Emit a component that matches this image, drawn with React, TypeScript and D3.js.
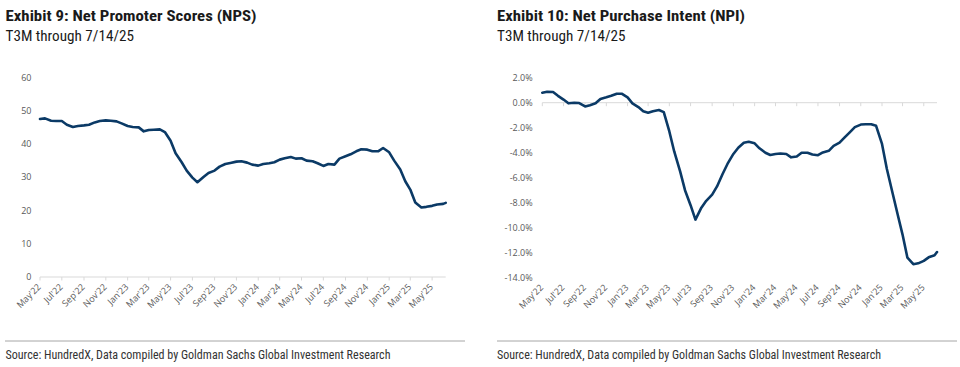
import React from 'react';
import * as d3 from 'd3';

// semi-monthly readings, shared by both exhibits
const dates = [
  '2022-05-01', '2022-05-15', '2022-06-01', '2022-06-15', '2022-07-01', '2022-07-15', '2022-08-01', '2022-08-15',
  '2022-09-01', '2022-09-15', '2022-10-01', '2022-10-15', '2022-11-01', '2022-11-15', '2022-12-01', '2022-12-15',
  '2023-01-01', '2023-01-15', '2023-02-01', '2023-02-15', '2023-03-01', '2023-03-15', '2023-04-01', '2023-04-15',
  '2023-05-01', '2023-05-15', '2023-06-01', '2023-06-15', '2023-07-01', '2023-07-15', '2023-08-01', '2023-08-15',
  '2023-09-01', '2023-09-15', '2023-10-01', '2023-10-15', '2023-11-01', '2023-11-15', '2023-12-01', '2023-12-15',
  '2024-01-01', '2024-01-15', '2024-02-01', '2024-02-15', '2024-03-01', '2024-03-15', '2024-04-01', '2024-04-15',
  '2024-05-01', '2024-05-15', '2024-06-01', '2024-06-15', '2024-07-01', '2024-07-15', '2024-08-01', '2024-08-15',
  '2024-09-01', '2024-09-15', '2024-10-01', '2024-10-15', '2024-11-01', '2024-11-15', '2024-12-01', '2024-12-15',
  '2025-01-01', '2025-01-15', '2025-02-01', '2025-02-15', '2025-03-01', '2025-03-15', '2025-04-01', '2025-04-15',
  '2025-05-01', '2025-05-15', '2025-06-01', '2025-06-08',
];

const npsValues = [
  47.5, 47.7, 47.0, 46.9, 46.9, 45.8, 45.1, 45.4, 45.6, 45.8, 46.5, 46.9, 47.1, 47.0, 46.8, 46.2,
  45.4, 45.1, 45.0, 43.8, 44.2, 44.3, 44.4, 43.6, 41.0, 37.2, 34.5, 32.0, 29.9, 28.5, 30.1, 31.3,
  32.0, 33.2, 34.0, 34.3, 34.7, 34.8, 34.4, 33.8,
  33.5, 34.0, 34.2, 34.5, 35.3, 35.7, 36.1, 35.6, 35.7, 35.0, 34.8, 34.2, 33.4, 34.0, 33.8, 35.6,
  36.3, 36.9, 37.8, 38.4, 38.3, 37.8, 37.8, 38.8,
  37.5, 35.0, 32.3, 28.8, 26.3, 22.4, 20.9, 21.1, 21.4, 21.8, 22.0, 22.3,
];

// percent
const npiValues = [
  0.8, 0.88, 0.85, 0.55, 0.25, -0.05, 0.0, -0.03, -0.3, -0.2, -0.05, 0.3, 0.43, 0.55, 0.72, 0.72,
  0.42, -0.05, -0.35, -0.68, -0.8, -0.68, -0.58, -0.75, -2.3, -3.9, -5.5, -7.0, -8.2, -9.35, -8.4, -7.85,
  -7.35, -6.7, -5.7, -4.9, -4.1, -3.6, -3.2, -3.12,
  -3.25, -3.65, -4.0, -4.18, -4.1, -4.07, -4.1, -4.37, -4.3, -4.0, -4.0, -4.15, -4.2, -3.98, -3.85, -3.45,
  -3.2, -2.8, -2.35, -1.95, -1.75, -1.73, -1.72, -1.85,
  -3.3, -5.3, -7.3, -8.95, -10.55, -12.4, -12.92, -12.85, -12.65, -12.37, -12.2, -11.95,
];

const npsTicks = [0, 10, 20, 30, 40, 50, 60];
const npiTicks = [2, 0, -2, -4, -6, -8, -10, -12, -14];

const titles = ['Exhibit 9: Net Promoter Scores (NPS)', 'Exhibit 10: Net Purchase Intent (NPI)'];
const subtitle = 'T3M through 7/14/25';
const source = 'Source: HundredX, Data compiled by Goldman Sachs Global Investment Research';

const parse = d3.timeParse('%Y-%m-%d');
const fmt = d3.timeFormat("%b'%y");
const LINE = '#0b3a66';
const LABEL = '#595959';
const AXIS = '#d9d9d9';
const TITLE_FONT = "'Roboto Condensed', 'Liberation Sans Narrow', 'DejaVu Sans Condensed', Roboto, sans-serif";
const TICK_FONT = "'Open Sans', 'Noto Sans', sans-serif";

function Panel({ ox, title, titleW, subW, values, ticks, yDomain, left, right, top, bottom, zeroAxis, tickFmt, labelRight }) {
  const x = d3.scaleTime()
    .domain([parse('2022-05-01'), parse('2025-06-08')])
    .range([left, right]);
  const y = d3.scaleLinear().domain(yDomain).range([bottom, top]);
  const line = d3.line()
    .x((d) => x(d[0]))
    .y((d) => y(d[1]))
    .curve(d3.curveLinear);
  const pts = dates.map((d, i) => [parse(d), values[i]]);
  const axisY = zeroAxis ? y(0) : bottom;
  const xt = x.ticks(d3.timeMonth.every(2));

  return (
    <g>
      <text x={ox} y={20.5} fontFamily={TITLE_FONT} fontWeight="bold" fontSize={15} fill="#1a1a1a"
        textLength={titleW} lengthAdjust="spacingAndGlyphs">{title}</text>
      <text x={ox} y={40.5} fontFamily={TITLE_FONT} fontSize={14.5} fill="#1a1a1a"
        textLength={subW} lengthAdjust="spacingAndGlyphs">{subtitle}</text>

      {ticks.map((t) => (
        <text key={t} x={labelRight} y={y(t)} dy="0.35em" textAnchor="end"
          fontFamily={TICK_FONT} fontSize={9} fill={LABEL}>{tickFmt(t)}</text>
      ))}

      <line x1={left} x2={right} y1={axisY} y2={axisY} stroke={AXIS} strokeWidth={1} />
      {xt.map((t) => (
        <line key={+t} x1={x(t)} x2={x(t)} y1={axisY} y2={axisY + 3.5} stroke={AXIS} strokeWidth={1} />
      ))}
      {xt.map((t) => (
        <text key={+t} transform={`translate(${x(t) + 1.5},${bottom + 10.5}) rotate(-45)`} textAnchor="end"
          fontFamily={TICK_FONT} fontSize={9} fill={LABEL}>{fmt(t)}</text>
      ))}

      <path d={line(pts)} fill="none" stroke={LINE} strokeWidth={2.6} strokeLinejoin="round" strokeLinecap="round" />
    </g>
  );
}

export default function App() {
  return (
    <svg width={960} height={367} style={{ position: 'absolute', left: 0, top: 0, background: '#fff' }}>
      <Panel ox={5.5} title={titles[0]} titleW={251} subW={128.5}
        values={npsValues} ticks={npsTicks} yDomain={[0, 60]}
        left={40} right={445.7} top={77.5} bottom={277}
        zeroAxis={false} tickFmt={(t) => String(t)} labelRight={31.5} />
      <Panel ox={497} title={titles[1]} titleW={248} subW={128.5}
        values={npiValues} ticks={npiTicks} yDomain={[-14, 2]}
        left={542.3} right={937} top={77.7} bottom={277.7}
        zeroAxis={true} tickFmt={(t) => `${t.toFixed(1)}%`} labelRight={532.7} />

      <line x1={5} x2={465} y1={341} y2={341} stroke="#a6a6a6" strokeWidth={1} />
      <line x1={497} x2={957} y1={341} y2={341} stroke="#a6a6a6" strokeWidth={1} />
      <text x={5.5} y={359} fontFamily={TITLE_FONT} fontSize={12} fill="#333"
        textLength={385} lengthAdjust="spacingAndGlyphs">{source}</text>
      <text x={497} y={359} fontFamily={TITLE_FONT} fontSize={12} fill="#333"
        textLength={384} lengthAdjust="spacingAndGlyphs">{source}</text>
    </svg>
  );
}
